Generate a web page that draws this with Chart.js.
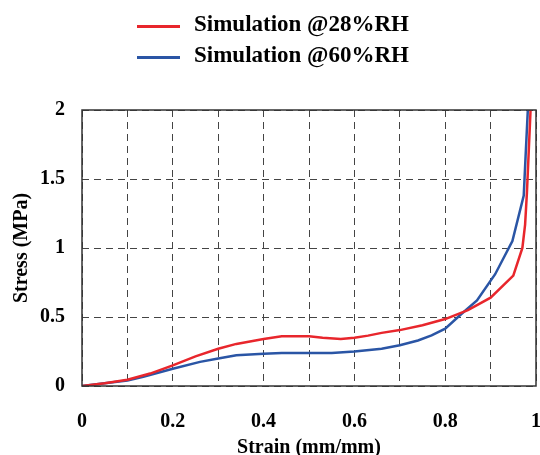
<!DOCTYPE html>
<html>
<head>
<meta charset="utf-8">
<script src="https://cdn.jsdelivr.net/npm/chart.js@4"></script>
<style>
    body { margin: 0; background: #fff; }
    #wrap { position: relative; width: 540px; height: 455px; }
    .legend-row { position: absolute; left: 137px; height: 30px; line-height: 30px;
        font: bold 23px "Liberation Serif", "Times New Roman", serif; color: #000; white-space: nowrap; }
    .legend-row span.swatch { position: absolute; left: 0; top: 14px; width: 43px; height: 3px; }
    .legend-row span.label { position: absolute; left: 57px; top: 0; }
</style>
</head>
<body>
<div id="wrap">
    <canvas id="chart" width="540" height="455"></canvas>
    <div class="legend-row" style="top:11px"><span class="swatch" style="background:#e8262c"></span><span class="label">Simulation @28%RH</span></div>
    <div class="legend-row" style="top:42px"><span class="swatch" style="background:#2a55a5"></span><span class="label">Simulation @60%RH</span></div>
</div>
<script>
// Series
const strain28 = [0, 0.05, 0.1, 0.15, 0.2, 0.25, 0.3, 0.34, 0.4, 0.44, 0.5, 0.53, 0.57, 0.6, 0.63, 0.66, 0.7, 0.75, 0.8, 0.85, 0.9, 0.95, 0.97, 0.976, 0.98, 0.988];
const stress28 = [0, 0.02, 0.045, 0.09, 0.15, 0.215, 0.27, 0.305, 0.34, 0.36, 0.36, 0.35, 0.34, 0.35, 0.365, 0.385, 0.405, 0.44, 0.485, 0.55, 0.64, 0.80, 1.0, 1.17, 1.4, 2.0];

const strain60 = [0, 0.05, 0.1, 0.135, 0.2, 0.26, 0.3, 0.34, 0.4, 0.44, 0.5, 0.55, 0.6, 0.66, 0.7, 0.74, 0.77, 0.8, 0.835, 0.87, 0.91, 0.948, 0.973, 0.977, 0.982];
const stress60 = [0, 0.02, 0.04, 0.067, 0.125, 0.175, 0.2, 0.223, 0.233, 0.24, 0.24, 0.24, 0.25, 0.27, 0.295, 0.33, 0.367, 0.415, 0.52, 0.62, 0.81, 1.05, 1.38, 1.66, 2.0];

const seriesLabels = ['Simulation @28%RH', 'Simulation @60%RH'];
const seriesColors = ['#e8262c', '#2a55a5'];

// Labelled ticks; the x grid also has unlabelled lines every 0.1
const xTicks = [0, 0.2, 0.4, 0.6, 0.8, 1];
const xGrid = [0, 0.1, 0.2, 0.3, 0.4, 0.5, 0.6, 0.7, 0.8, 0.9, 1];
const yTicks = [0, 0.5, 1, 1.5, 2];

const FONT = '"Liberation Serif", "Times New Roman", serif';

function toPoints(xs, ys) {
    return xs.map((x, i) => ({ x: x, y: ys[i] }));
}

// Solid frame round the plot area
const framePlugin = {
    id: 'frame',
    afterDatasetsDraw(chart) {
        const a = chart.chartArea;
        const ctx = chart.ctx;
        ctx.save();
        ctx.strokeStyle = '#333';
        ctx.lineWidth = 1.5;
        ctx.strokeRect(a.left, a.top, a.right - a.left, a.bottom - a.top);
        ctx.restore();
    }
};

const ctx = document.getElementById('chart').getContext('2d');
new Chart(ctx, {
    type: 'scatter',
    data: {
        datasets: [
            {
                label: seriesLabels[0],
                data: toPoints(strain28, stress28),
                showLine: true,
                borderColor: seriesColors[0],
                backgroundColor: seriesColors[0],
                borderWidth: 2.5,
                pointRadius: 0,
                tension: 0
            },
            {
                label: seriesLabels[1],
                data: toPoints(strain60, stress60),
                showLine: true,
                borderColor: seriesColors[1],
                backgroundColor: seriesColors[1],
                borderWidth: 2.5,
                pointRadius: 0,
                tension: 0
            }
        ]
    },
    options: {
        responsive: false,
        animation: false,
        layout: { padding: { top: 110, right: 4, left: 0, bottom: 0 } },
        plugins: {
            legend: { display: false },
            tooltip: { enabled: false }
        },
        scales: {
            x: {
                type: 'linear',
                min: 0,
                max: 1,
                afterFit(scale) {
                    scale.height = 69;
                    scale.paddingLeft = 0;
                    scale.paddingRight = 0;
                },
                afterBuildTicks(scale) {
                    scale.ticks = xGrid.map(v => ({ value: v }));
                },
                border: { display: false, dash: [7, 5] },
                grid: {
                    color: '#444',
                    lineWidth: 1,
                    drawTicks: false
                },
                ticks: {
                    padding: 24,
                    color: '#000',
                    font: { family: FONT, size: 20, weight: 'bold' },
                    callback: function(v) {
                        const hit = xTicks.find(t => Math.abs(t - v) < 1e-6);
                        return hit === undefined ? '' : String(hit);
                    }
                },
                title: {
                    display: true,
                    text: 'Strain (mm/mm)',
                    color: '#000',
                    font: { family: FONT, size: 20, weight: 'bold', lineHeight: 1 },
                    padding: { top: 0, bottom: -3 }
                }
            },
            y: {
                type: 'linear',
                min: 0,
                max: 2,
                afterFit(scale) {
                    scale.width = 82;
                    scale.paddingTop = 0;
                    scale.paddingBottom = 0;
                },
                afterBuildTicks(scale) {
                    scale.ticks = yTicks.map(v => ({ value: v }));
                },
                border: { display: false, dash: [7, 5] },
                grid: {
                    color: '#444',
                    lineWidth: 1,
                    drawTicks: false
                },
                ticks: {
                    padding: 17,
                    color: '#000',
                    font: { family: FONT, size: 20, weight: 'bold' },
                    callback: v => String(v)
                },
                title: {
                    display: true,
                    text: 'Stress (MPa)',
                    color: '#000',
                    font: { family: FONT, size: 20, weight: 'bold', lineHeight: 1 },
                    padding: { top: 12, bottom: 0 }
                }
            }
        }
    },
    plugins: [framePlugin]
});
</script>
</body>
</html>
